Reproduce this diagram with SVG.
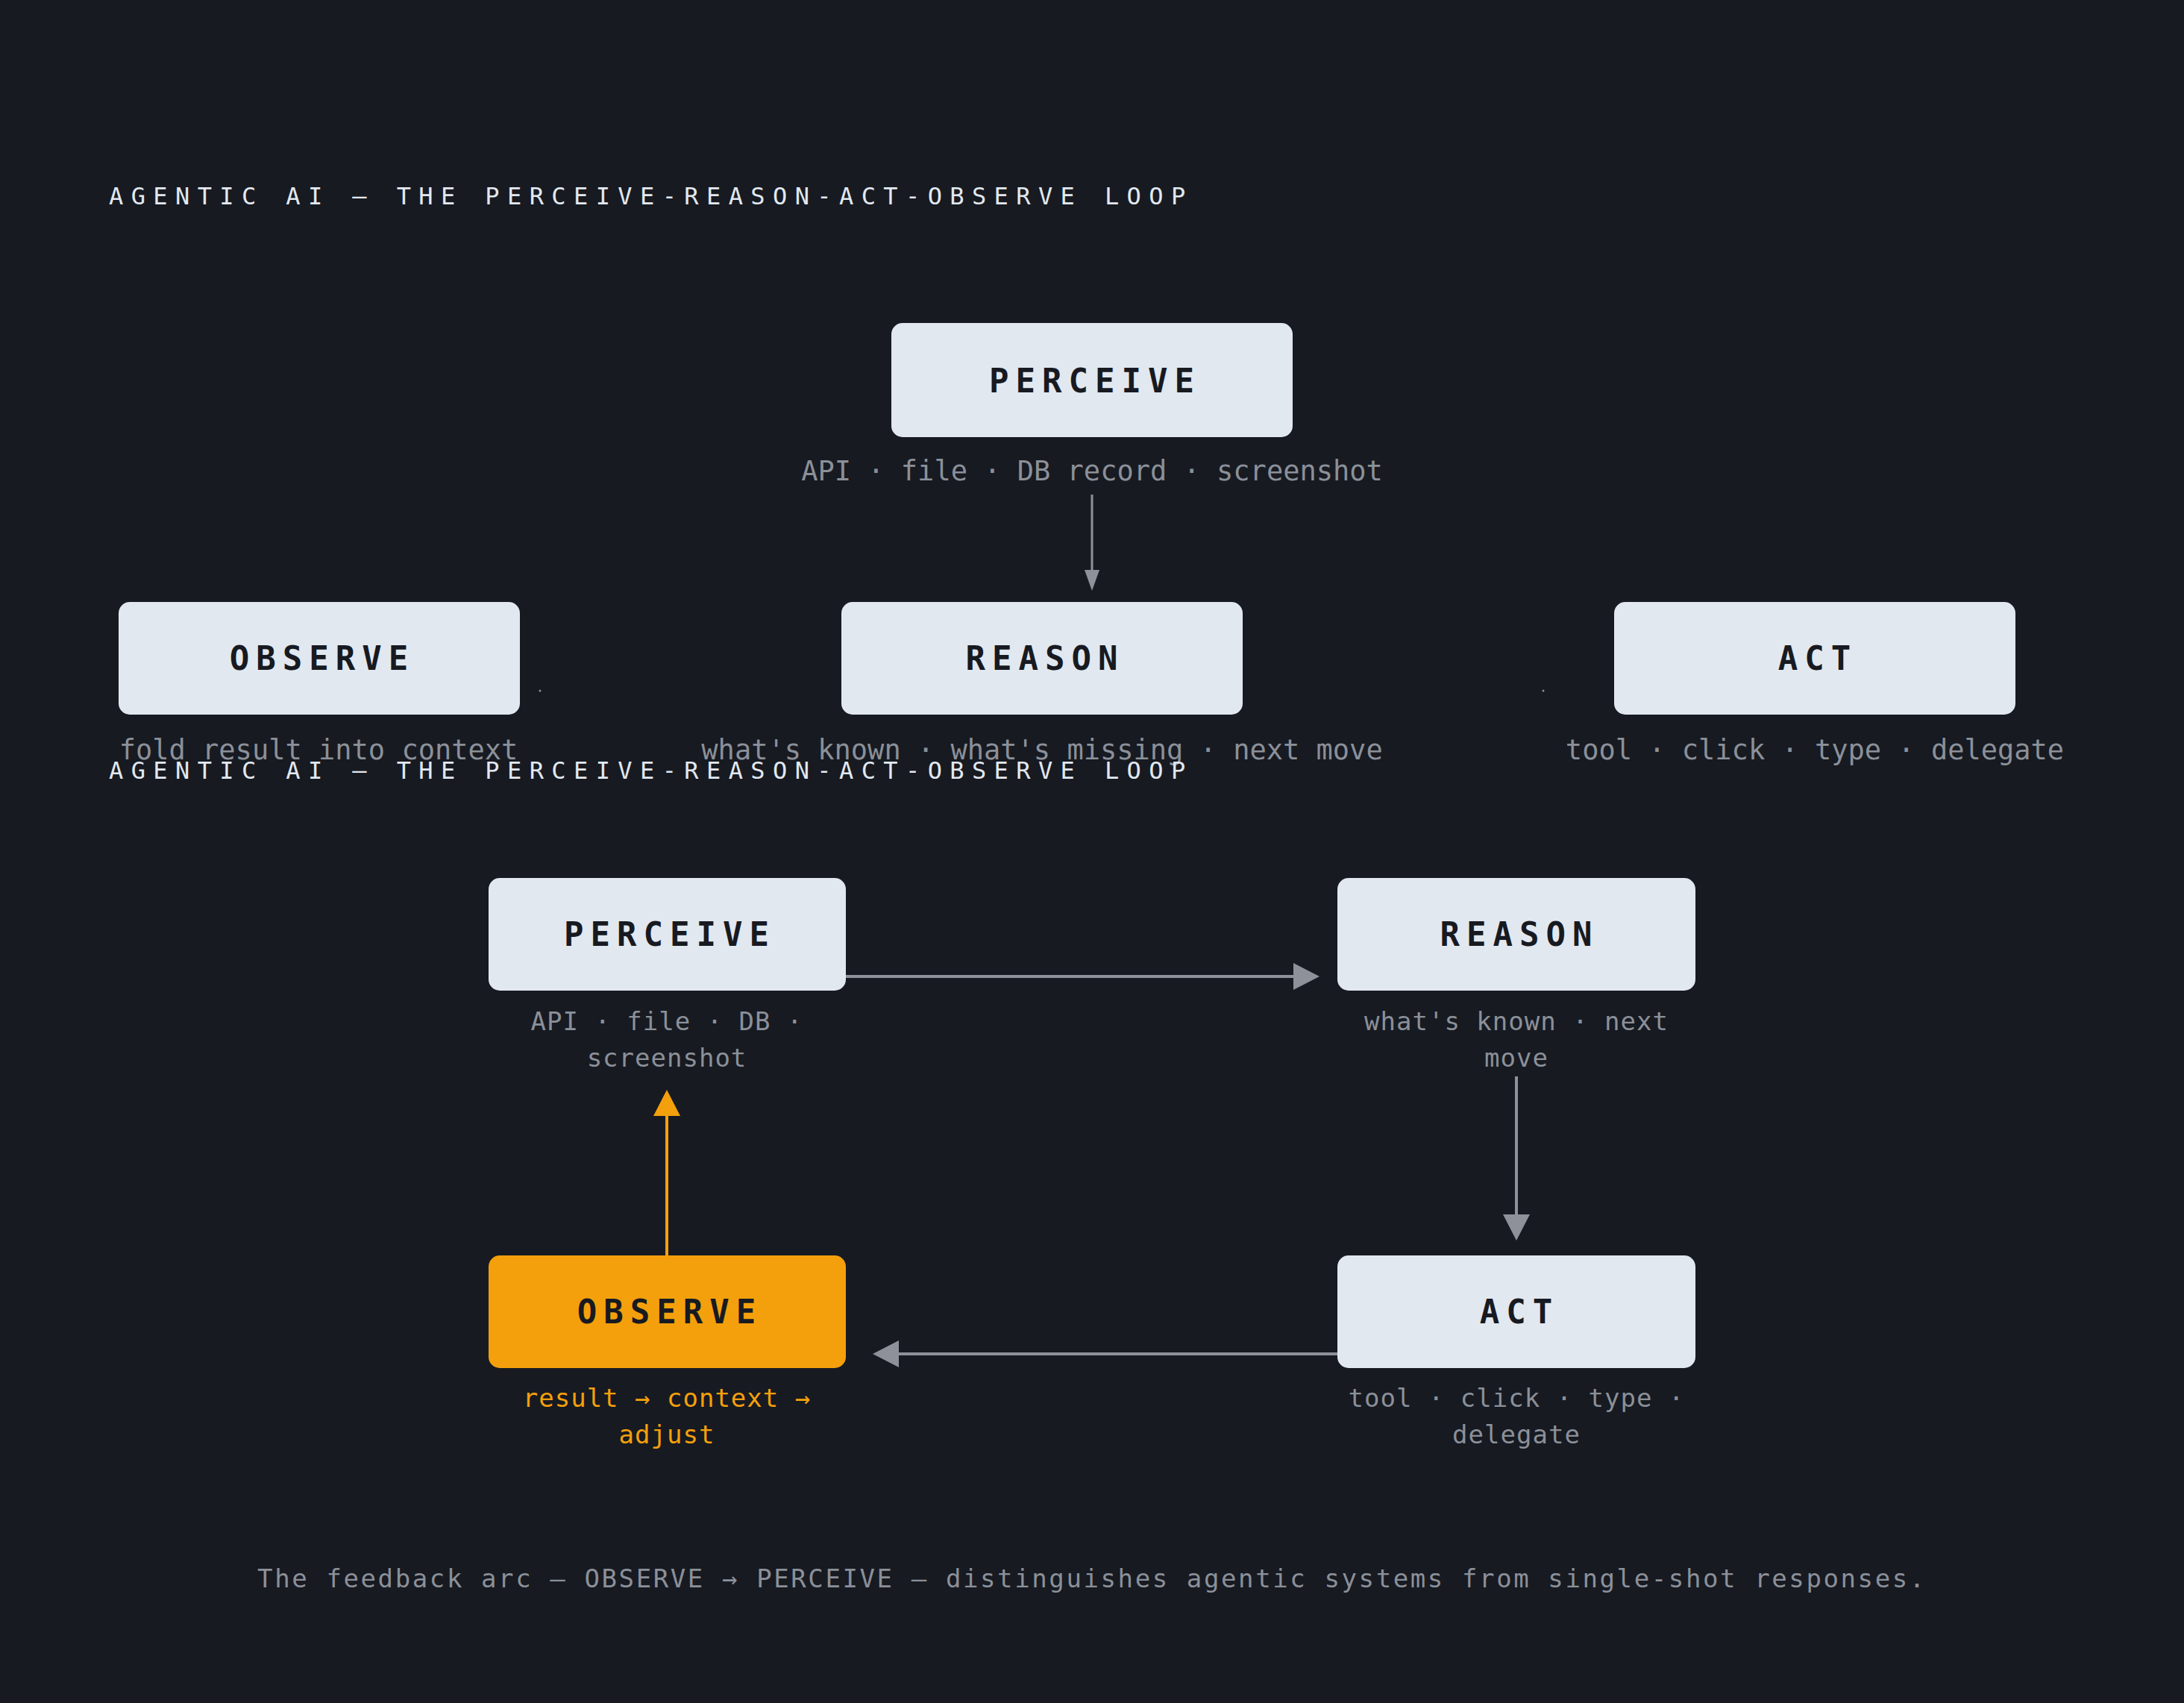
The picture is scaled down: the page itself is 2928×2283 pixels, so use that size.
<svg xmlns="http://www.w3.org/2000/svg" width="2928" height="2283" viewBox="0 0 2928 2283">
<defs>
<style>
text{font-family:"DejaVu Sans Mono","Liberation Mono",monospace}
.title{font-size:32px;fill:#e2e8f0;letter-spacing:10.4px}
.box{fill:#e2e8f0}
.lbl{font-size:44px;font-weight:bold;fill:#171a21;letter-spacing:9px;text-anchor:middle}
.sub{font-size:37px;fill:#8b9099;text-anchor:middle}
.sub2{font-size:34px;fill:#8b9099;text-anchor:middle;letter-spacing:1px}
.org{fill:#f4a00c}
.line{stroke:#8e9199;fill:none}
</style>
<marker id="ah" viewBox="0 0 10 10" refX="10" refY="5" markerWidth="10" markerHeight="10" markerUnits="userSpaceOnUse" orient="auto"><path d="M0,0 L10,5 L0,10 Z" fill="#8e9199"/></marker>
</defs>
<rect width="2928" height="2283" fill="#171a21"/>
<text class="title" x="146" y="274">AGENTIC AI — THE PERCEIVE-REASON-ACT-OBSERVE LOOP</text>
<g id="connectors">
<line class="line" x1="1464" y1="663" x2="1464" y2="768" stroke-width="3"/>
<path d="M1454,764 L1474,764 L1464,792 Z" fill="#8e9199"/>
<circle cx="724" cy="926" r="1.5" fill="#8e9199"/>
<circle cx="2069" cy="926" r="1.5" fill="#8e9199"/>
<line class="line" x1="1134" y1="1309" x2="1736" y2="1309" stroke-width="4"/>
<path d="M1734,1291 L1769,1309 L1734,1327 Z" fill="#8e9199"/>
<line class="line" x1="2033" y1="1443" x2="2033" y2="1630" stroke-width="4"/>
<path d="M2015,1628 L2051,1628 L2033,1663 Z" fill="#8e9199"/>
<line class="line" x1="1793" y1="1815" x2="1203" y2="1815" stroke-width="4"/>
<path d="M1205,1797 L1170,1815 L1205,1833 Z" fill="#8e9199"/>
<line x1="894" y1="1683" x2="894" y2="1494" stroke="#f4a00c" stroke-width="4"/>
<path d="M876,1496 L894,1461 L912,1496 Z" fill="#f4a00c"/>
</g>
<g id="top-perceive">
<rect class="box" x="1195" y="433" width="538" height="153" rx="15"/>
<text class="lbl" x="1468" y="526">PERCEIVE</text>
<text class="sub" x="1464" y="644">API · file · DB record · screenshot</text>
</g>
<g id="top-observe">
<rect class="box" x="159" y="807" width="538" height="151" rx="15"/>
<text class="lbl" x="432" y="898">OBSERVE</text>
<text class="sub" x="427" y="1018">fold result into context</text>
</g>
<g id="top-reason">
<rect class="box" x="1128" y="807" width="538" height="151" rx="15"/>
<text class="lbl" x="1401" y="898">REASON</text>
<text class="sub" x="1397" y="1018">what's known · what's missing · next move</text>
</g>
<g id="top-act">
<rect class="box" x="2164" y="807" width="538" height="151" rx="15"/>
<text class="lbl" x="2437" y="898">ACT</text>
<text class="sub" x="2433" y="1018">tool · click · type · delegate</text>
</g>
<text class="title" x="146" y="1044">AGENTIC AI — THE PERCEIVE-REASON-ACT-OBSERVE LOOP</text>
<g id="perceive">
<rect class="box" x="655" y="1177" width="479" height="151" rx="15"/>
<text class="lbl" x="898" y="1268">PERCEIVE</text>
<text class="sub2" x="894" y="1381">API · file · DB ·</text>
<text class="sub2" x="894" y="1430">screenshot</text>
</g>
<g id="reason">
<rect class="box" x="1793" y="1177" width="480" height="151" rx="15"/>
<text class="lbl" x="2037" y="1268">REASON</text>
<text class="sub2" x="2033" y="1381">what's known · next</text>
<text class="sub2" x="2033" y="1430">move</text>
</g>
<g id="act">
<rect class="box" x="1793" y="1683" width="480" height="151" rx="15"/>
<text class="lbl" x="2037" y="1774">ACT</text>
<text class="sub2" x="2033" y="1886">tool · click · type ·</text>
<text class="sub2" x="2033" y="1935">delegate</text>
</g>
<g id="observe">
<rect class="org" x="655" y="1683" width="479" height="151" rx="15"/>
<text class="lbl" x="898" y="1774">OBSERVE</text>
<text class="sub2" x="894" y="1886" style="fill:#f4a00c">result → context →</text>
<text class="sub2" x="894" y="1935" style="fill:#f4a00c">adjust</text>
</g>
<text x="1464" y="2128" style="font-size:34px;fill:#8b9099;text-anchor:middle;letter-spacing:2.6px">The feedback arc — OBSERVE → PERCEIVE — distinguishes agentic systems from single-shot responses.</text>
</svg>
